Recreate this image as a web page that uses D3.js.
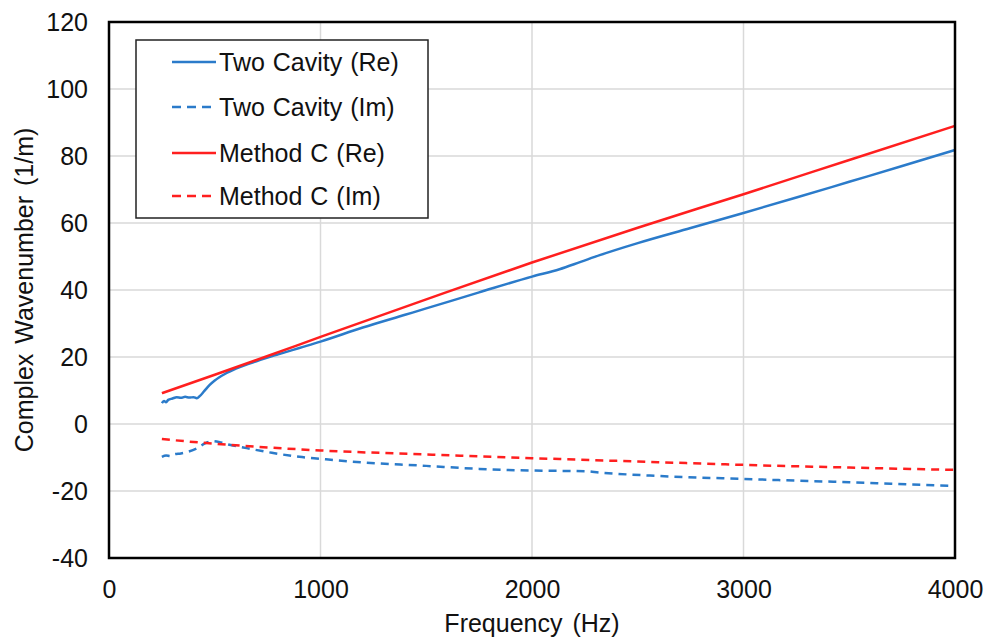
<!DOCTYPE html>
<html>
<head>
<meta charset="utf-8">
<script src="https://cdn.jsdelivr.net/npm/d3@7"></script>
<style>
  html, body { margin: 0; padding: 0; background: #fff; }
  svg { display: block; font-family: "Liberation Sans", Arial, sans-serif; }
</style>
</head>
<body>
<svg id="chart" width="990" height="643"></svg>
<script>
// ---- data ----
const twoCavityReFreq = [250,260,270,280,300,320,340,360,380,400,415,430,450,475,500,550,600,700,800,900,1000,1200,1400,1500,1750,2000,2130,2230,2320,2500,2750,3000,3250,3500,3750,4000];
const twoCavityRe     = [6.2,6.9,6.5,7.2,7.6,8.0,7.8,8.1,7.9,8.0,7.7,8.4,9.8,11.6,13.0,15.0,16.5,18.8,20.8,22.7,24.6,28.8,32.6,34.5,39.3,44.0,46.2,48.4,50.4,54.0,58.5,63.0,67.6,72.3,77.0,81.8];

const twoCavityImFreq = [250,270,290,310,340,374,415,454,493,530,564,635,770,900,1000,1140,1500,1750,2000,2250,2320,2558,3000,3500,4000];
const twoCavityIm     = [-9.8,-9.4,-9.6,-9.0,-8.8,-8.3,-7.3,-5.8,-5.1,-5.5,-6.1,-7.0,-8.6,-9.8,-10.4,-11.2,-12.5,-13.4,-13.9,-14.1,-14.5,-15.4,-16.4,-17.4,-18.5];

const methodCFreq = [250,500,750,1000,1500,2000,2500,3000,3500,4000];
const methodCRe   = [9.2,14.7,20.3,26.0,37.2,48.2,58.6,68.6,78.8,89.0];
const methodCIm   = [-4.5,-5.9,-7.0,-7.9,-9.1,-10.2,-11.2,-12.2,-13.0,-13.7];

const xTicks = [0,1000,2000,3000,4000];
const yTicks = [-40,-20,0,20,40,60,80,100,120];

const seriesNames = ["Two Cavity (Re)","Two Cavity (Im)","Method C (Re)","Method C (Im)"];
const xTitle = "Frequency (Hz)";
const yTitle = "Complex Wavenumber (1/m)";

// ---- layout ----
const BLUE = "#2b7bca", RED = "#ff1f1f";
const FS = 25;
const pL = 109, pR = 955, pT = 22, pB = 558;
const svg = d3.select("#chart");
const x = d3.scaleLinear().domain([0,4000]).range([pL,pR]);
const y = d3.scaleLinear().domain([-40,120]).range([pB,pT]);
const fmt = d => String(d);

// gridlines
svg.append("g").selectAll("line").data(yTicks).join("line")
  .attr("x1",pL).attr("x2",pR).attr("y1",d=>y(d)).attr("y2",d=>y(d))
  .attr("stroke","#d9d9d9").attr("stroke-width",1.5);
svg.append("g").selectAll("line").data(xTicks).join("line")
  .attr("y1",pT).attr("y2",pB).attr("x1",d=>x(d)).attr("x2",d=>x(d))
  .attr("stroke","#d9d9d9").attr("stroke-width",1.5);

// axes (labels only)
const xAxis = svg.append("g").attr("transform",`translate(0,${pB})`)
  .call(d3.axisBottom(x).tickValues(xTicks).tickSize(0).tickPadding(0).tickFormat(fmt));
xAxis.select(".domain").remove();
xAxis.selectAll("text").attr("font-size",FS).attr("fill","#111")
  .attr("font-family","'Liberation Sans', Arial, sans-serif").attr("dy",null).attr("y",40);

const yAxis = svg.append("g").attr("transform",`translate(${pL},0)`)
  .call(d3.axisLeft(y).tickValues(yTicks).tickSize(0).tickPadding(0).tickFormat(fmt));
yAxis.select(".domain").remove();
yAxis.selectAll("text").attr("font-size",FS).attr("fill","#111")
  .attr("font-family","'Liberation Sans', Arial, sans-serif").attr("x",-21).attr("dy","0.35em");

// lines
const mk = (fx, fy) => fx.map((f,i)=>[f, fy[i]]);
const line = d3.line().x(d=>x(d[0])).y(d=>y(d[1])).curve(d3.curveMonotoneX);
const series = [
  {data: mk(twoCavityReFreq, twoCavityRe), color: BLUE, dash: null},
  {data: mk(twoCavityImFreq, twoCavityIm), color: BLUE, dash: "8,6"},
  {data: mk(methodCFreq, methodCRe), color: RED, dash: null},
  {data: mk(methodCFreq, methodCIm), color: RED, dash: "8,6"}
];
svg.append("g").selectAll("path").data(series).join("path")
  .attr("d", d=>line(d.data)).attr("fill","none")
  .attr("stroke", d=>d.color).attr("stroke-width",2.5)
  .attr("stroke-dasharray", d=>d.dash);

// plot border
svg.append("rect").attr("x",pL).attr("y",pT).attr("width",pR-pL).attr("height",pB-pT)
  .attr("fill","none").attr("stroke","#000").attr("stroke-width",2.5);

// legend
const lg = svg.append("g");
lg.append("rect").attr("x",136).attr("y",40).attr("width",292).attr("height",178)
  .attr("fill","#fff").attr("stroke","#222").attr("stroke-width",1.5);
const rows = [62,107,153,196];
series.forEach((s,i)=>{
  lg.append("line").attr("x1",172).attr("x2",216).attr("y1",rows[i]).attr("y2",rows[i])
    .attr("stroke",s.color).attr("stroke-width",2.5).attr("stroke-dasharray", s.dash ? "9,6" : null);
  lg.append("text").attr("x",219).attr("y",rows[i]).attr("dy","0.35em")
    .attr("font-size",FS).attr("fill","#111").attr("word-spacing",1).text(seriesNames[i]);
});

// titles
svg.append("text").attr("x",(pL+pR)/2).attr("y",632).attr("text-anchor","middle")
  .attr("font-size",FS).attr("fill","#111").attr("word-spacing",3).text(xTitle);
svg.append("text").attr("transform",`translate(33,${(pT+pB)/2}) rotate(-90)`)
  .attr("text-anchor","middle").attr("font-size",FS).attr("fill","#111").attr("word-spacing",3).text(yTitle);
</script>
</body>
</html>
